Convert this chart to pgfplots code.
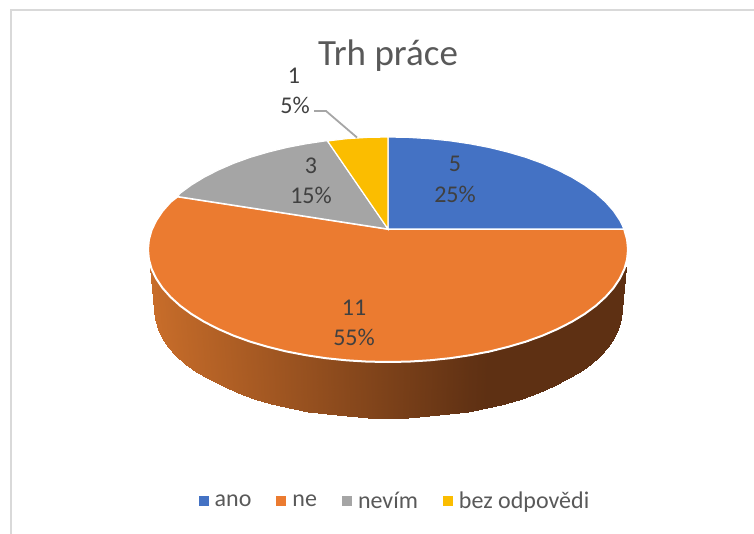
\documentclass[border=0pt]{standalone}
\usepackage{fontspec}
\setmainfont{Carlito}
\usepackage{pgfplots}
\pgfplotsset{compat=1.18}
\definecolor{cblue}{HTML}{4472C4}
\definecolor{corange}{HTML}{EB7B30}
\definecolor{cgray}{HTML}{A5A5A5}
\definecolor{cyellow}{HTML}{FBBD00}
\definecolor{ctitle}{HTML}{595959}
\definecolor{clabel}{HTML}{404040}
\begin{document}
\begin{tikzpicture}
\begin{axis}[
  scale only axis, width=754pt, height=534pt,
  xmin=0, xmax=754, ymin=0, ymax=534, y dir=reverse,
  hide axis,
  colormap={side}{rgb255(0cm)=(200,109,42); rgb255(1cm)=(94,48,19)},
  point meta min=149, point meta max=483,
  legend columns=-1,
  legend style={at={(axis cs:395,501)}, anchor=center, draw=none, fill=none,
    font=\fontsize{24}{27}\selectfont\color{ctitle},
    /tikz/every even column/.append style={column sep=23pt},
    /tikz/every odd column/.append style={column sep=5pt}},
]
\path (axis cs:0,0) rectangle (axis cs:754,534);
% chart frame
\addplot[forget plot, draw=black!15, line width=2pt] coordinates {(11,534)(11,10)(754,10)};
% side wall of the orange slice
\addplot[forget plot, surf, shader=interp, mesh/cols=37, point meta=explicit] table[x=x,y=y,meta=c] {
x y c
149.8 267 149.8
150.7 268 150.7
151.6 269 151.6
156.2 278.6 156.2
162.5 288 162.5
170.5 297 170.5
180.2 305.8 180.2
191.4 314 191.4
204.2 321.8 204.2
218.3 329 218.3
233.7 335.7 233.7
250.3 341.7 250.3
268 346.9 268
286.6 351.5 286.6
305.9 355.2 305.9
325.9 358.2 325.9
346.3 360.3 346.3
367.1 361.6 367.1
388 362 388
408.9 361.6 408.9
429.7 360.3 429.7
450.1 358.2 450.1
470.1 355.2 470.1
489.4 351.5 483
508 346.9 483
525.7 341.7 483
542.3 335.7 483
557.7 329 483
571.8 321.8 483
584.6 314 483
595.8 305.8 483
605.5 297 483
613.5 288 483
619.8 278.6 483
624.4 269 483
625.3 268 483
626.2 267 483
154 310 149.8
154.9 319.4 150.7
157.6 328.7 151.6
162 338 156.2
168.1 346.9 162.5
175.9 355.6 170.5
185.4 364 180.2
196.3 371.9 191.4
208.8 379.4 204.2
222.5 386.4 218.3
237.6 392.7 233.7
253.8 398.5 250.3
271 403.5 268
289.1 407.9 286.6
308 411.5 305.9
327.4 414.3 325.9
347.4 416.4 346.3
367.6 417.6 367.1
388 418 388
408.4 417.6 408.9
428.6 416.4 429.7
448.6 414.3 450.1
468 411.5 470.1
486.9 407.9 483
505 403.5 483
522.2 398.5 483
538.4 392.7 483
553.5 386.4 483
567.2 379.4 483
579.7 371.9 483
590.6 364 483
600.1 355.6 483
607.9 346.9 483
614 338 483
618.4 328.7 483
621.1 319.4 483
622 310 483
};
% top faces
\addplot[forget plot, fill=corange, draw=white, line width=2pt] coordinates {
(388,229)(177.5,196.5)(170.5,202)(162.5,211)(156.2,220.4)(151.6,230)(148.9,239.7)(148,249.5)
(148.9,259.3)(151.6,269)(156.2,278.6)(162.5,288)(170.5,297)(180.2,305.8)(191.4,314)(204.2,321.8)
(218.3,329)(233.7,335.7)(250.3,341.7)(268,346.9)(286.6,351.5)(305.9,355.2)(325.9,358.2)(346.3,360.3)
(367.1,361.6)(388,362)(408.9,361.6)(429.7,360.3)(450.1,358.2)(470.1,355.2)(489.4,351.5)(508,346.9)
(525.7,341.7)(542.3,335.7)(557.7,329)(571.8,321.8)(584.6,314)(595.8,305.8)(605.5,297)(613.5,288)
(619.8,278.6)(624.4,269)(627.1,259.3)(628,249.5)(627.1,239.7)(624.4,230)(624,229)} -- cycle;
\addplot[forget plot, fill=cblue, draw=white, line width=1.2pt] coordinates {
(388,229)(388,137)(408.9,137.4)(429.7,138.7)(450.1,140.8)(470.1,143.8)(489.4,147.5)(508,152.1)
(525.7,157.3)(542.3,163.3)(557.7,170)(571.8,177.2)(584.6,185)(595.8,193.2)(605.5,202)(613.5,211)
(619.8,220.4)(624,229)} -- cycle;
\addplot[forget plot, fill=cgray, draw=white, line width=1.2pt] coordinates {
(388,229)(327.5,141)(325.9,140.8)(305.9,143.8)(286.6,147.5)(268,152.1)(250.3,157.3)(233.7,163.3)
(218.3,170)(204.2,177.2)(191.4,185)(180.2,193.2)(177.5,196.5)} -- cycle;
\addplot[forget plot, fill=cyellow, draw=white, line width=1.2pt] coordinates {
(388,229)(388,137)(367.1,137.4)(346.3,138.7)(327.5,141)} -- cycle;
% leader line
\addplot[forget plot, draw=black!35, line width=1.8pt] coordinates {(314,111)(326,111)(357,137.5)};
% legend
\addlegendimage{only marks, mark=square*, mark size=4.5pt, color=cblue}
\addlegendentry{ano}
\addlegendimage{only marks, mark=square*, mark size=4.5pt, color=corange}
\addlegendentry{ne}
\addlegendimage{only marks, mark=square*, mark size=4.5pt, color=cgray}
\addlegendentry{nevím}
\addlegendimage{only marks, mark=square*, mark size=4.5pt, color=cyellow}
\addlegendentry{bez odpovědi}
% texts
\node[text=ctitle, font=\fontsize{37}{40}\selectfont] at (axis cs:388,55.5) {Trh práce};
\tikzset{dl/.style={text=clabel, font=\fontsize{24}{27}\selectfont}}
\node[dl] at (axis cs:294,76) {1};
\node[dl] at (axis cs:295,105) {5\%};
\node[dl] at (axis cs:311,166) {3};
\node[dl] at (axis cs:311,195) {15\%};
\node[dl] at (axis cs:455,164) {5};
\node[dl] at (axis cs:455,194) {25\%};
\node[dl] at (axis cs:354,308) {11};
\node[dl] at (axis cs:354,337) {55\%};
\end{axis}
\end{tikzpicture}
\end{document}
